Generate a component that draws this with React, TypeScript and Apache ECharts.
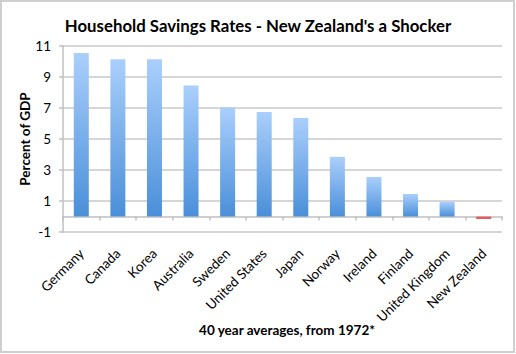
import React, { useEffect, useRef } from "react";
import * as echarts from "echarts";

const categories = [
  "Germany", "Canada", "Korea", "Australia", "Sweden", "United States",
  "Japan", "Norway", "Ireland", "Finland", "United Kingdom", "New Zealand",
];
const savingsRates = [10.55, 10.15, 10.15, 8.45, 7.05, 6.75, 6.35, 3.85, 2.55, 1.45, 0.95, -0.15];
const yTickLabels = ["-1", "1", "3", "5", "7", "9", "11"];

const FONT = "Lato, 'Open Sans', sans-serif";

export default function App() {
  const ref = useRef<HTMLDivElement>(null);
  useEffect(() => {
    document.body.style.margin = "0";
    const chart = echarts.init(ref.current!, null, { renderer: "svg" });
    const blue = new echarts.graphic.LinearGradient(0, 0, 0, 1, [
      { offset: 0, color: "#aacffc" },
      { offset: 1, color: "#4a8fd9" },
    ]);
    const red = new echarts.graphic.LinearGradient(0, 0, 0, 1, [
      { offset: 0, color: "#f07070" },
      { offset: 1, color: "#d03a3a" },
    ]);
    chart.setOption({
      animation: false,
      backgroundColor: "#ffffff",
      textStyle: { fontFamily: FONT },
      title: [
        {
          text: "Household Savings Rates - New Zealand's a Shocker",
          left: "center",
          top: 12,
          textStyle: { fontFamily: FONT, fontSize: 16.8, fontWeight: "bold", color: "#000" },
        },
        {
          text: "40 year averages, from 1972*",
          left: 282,
          textAlign: "center",
          top: 318,
          textStyle: { fontFamily: FONT, fontSize: 13.5, fontWeight: "bold", color: "#000" },
        },
      ],
      graphic: [
        {
          type: "rect",
          shape: { x: 1, y: 1, width: 513, height: 351 },
          style: { fill: "none", stroke: "#cfcfcf", lineWidth: 2 },
          silent: true,
        },
      ],
      grid: { left: 63, right: 14, top: 46, bottom: 122, containLabel: false, outerBoundsMode: "none" },
      xAxis: {
        type: "category",
        data: categories,
        axisLine: { onZero: true, onZeroAxisIndex: 1, lineStyle: { color: "#c0c0c0", width: 1.5 } },
        axisTick: { show: true, alignWithLabel: false, length: 4, lineStyle: { color: "#c0c0c0", width: 1.5 } },
        axisLabel: { rotate: 45, fontSize: 13.5, color: "#000", margin: 19, interval: 0, fontFamily: FONT },
      },
      yAxis: [
        {
          type: "value",
          min: 0,
          max: 12,
          interval: 2,
          axisLine: { show: true, lineStyle: { color: "#c0c0c0", width: 1.5 } },
          axisTick: { show: true, length: 4, lineStyle: { color: "#c0c0c0", width: 1.5 } },
          axisLabel: {
            fontSize: 13.5,
            color: "#000",
            margin: 12,
            fontFamily: FONT,
            formatter: (v: number) => yTickLabels[Math.round(v / 2)] ?? "",
          },
          splitLine: { show: true, lineStyle: { color: "#c8c8c8", width: 1.5 } },
          name: "Percent of GDP",
          nameLocation: "middle",
          nameGap: 31,
          nameMoveOverlap: false,
          nameTextStyle: { fontFamily: FONT, fontSize: 13.5, fontWeight: "bold", color: "#000" },
        },
        {
          type: "value",
          min: -1,
          max: 11,
          show: false,
          splitLine: { show: false },
        },
      ],
      series: [
        {
          type: "bar",
          yAxisIndex: 1,
          barWidth: "41%",
          data: savingsRates.map((v) => ({
            value: v,
            itemStyle: { color: v < 0 ? red : blue },
          })),
        },
      ],
    });
    return () => chart.dispose();
  }, []);
  return <div ref={ref} style={{ width: 516, height: 354 }} />;
}
